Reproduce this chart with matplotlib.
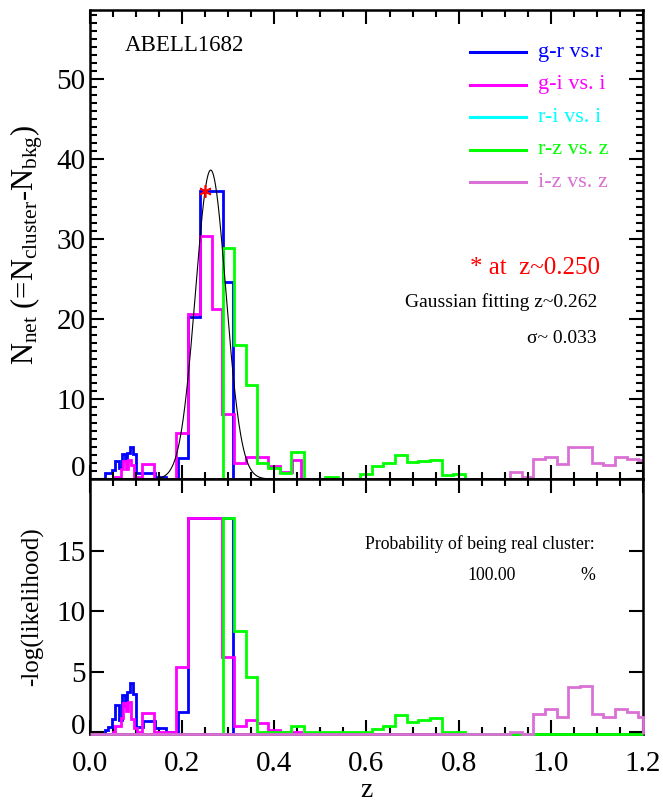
import numpy as np
import matplotlib
matplotlib.use("Agg")
import matplotlib.pyplot as plt
from matplotlib.ticker import MultipleLocator

plt.rcParams['font.family'] = 'Liberation Serif'
plt.rcParams['mathtext.fontset'] = 'custom'
plt.rcParams['mathtext.rm'] = 'Liberation Serif'
plt.rcParams['mathtext.it'] = 'Liberation Serif:italic'

# redshift bin edges and counts per colour; *_net is the net count,
# *_like is -log(likelihood) (values below the axis sit on the frame)
blue_edges = [0.033, 0.040, 0.047, 0.054, 0.062, 0.069, 0.076, 0.081, 0.087, 0.094,
              0.100, 0.114, 0.141, 0.165, 0.192, 0.213, 0.239, 0.263, 0.288, 0.311]
blue_net = [0.7, 0.7, 1.1, 2.2, 1.4, 3.1, 2.2, 3.2, 4.0, 3.1,
            0.7, 0.7, 0.3, 0.0, 2.6, 20.3, 36.0, 36.0, 24.6]
blue_like = [0.2, 0.43, 1.1, 2.3, 1.03, 3.1, 2.2, 3.36, 4.05, 3.2,
             0.43, 0.95, 0.35, 0.0, 1.7, 17.7, 17.7, 17.7, 17.7]

magenta_edges = [0.051, 0.054, 0.067, 0.072, 0.078, 0.083, 0.090, 0.096, 0.101, 0.112,
                 0.140, 0.187, 0.213, 0.239, 0.264, 0.286, 0.313, 0.339, 0.363, 0.386,
                 0.412, 0.438, 0.459]
magenta_net = [0.3, 0.3, 1.3, 2.3, 1.3, 2.4, 1.7, 0.3, 0.3, 1.9,
               0.0, 5.8, 20.6, 30.4, 21.2, 8.1, 2.0, 2.7, 2.7, 1.6, 0.9, 2.4]
magenta_like = [0.0, 0.54, 1.17, 2.46, 1.8, 2.54, 1.09, 0.35, 0.0, 1.58,
                0.0, 5.4, 17.7, 17.7, 17.7, 6.25, 0.54, 1.03, 0.81, 0.2, 0.0, 0.0]

green_edges = [0.288, 0.313, 0.339, 0.363, 0.387, 0.412, 0.436, 0.464, 0.510, 0.539,
               0.586, 0.611, 0.636, 0.662, 0.687, 0.712, 0.738, 0.763, 0.788, 0.814, 1.2]
green_net = [28.9, 16.8, 11.75, 2.0, 1.4, 0.8, 3.4, 0.0, 0.2, 0.0,
             0.6, 1.67, 1.96, 3.0, 2.08, 2.25, 2.37, 0.5, 0.6, 0.0]
green_like = [17.7, 8.4, 4.55, 0.0, 0.0, 0.0, 0.56, 0.0, 0.0, 0.0,
              0.0, 0.26, 0.54, 1.44, 0.89, 1.03, 1.22, 0.0, 0.02, -1.0]

orchid_edges = [0.0, 0.912, 0.937, 0.962, 0.987, 1.013, 1.038, 1.063, 1.089, 1.114,
                1.139, 1.165, 1.190, 1.2]
orchid_net = [0.0, 0.92, 0.3, 2.46, 2.7, 1.9, 3.96, 4.0, 2.0, 1.8, 2.7, 2.5, 2.4]
orchid_like = [-1.0, 0.07, -1.0, 1.53, 1.94, 1.3, 3.73, 3.86, 1.53, 1.3, 1.94, 1.72, 1.3]

series_names = ['g-r vs.r', 'g-i vs. i', 'r-i vs. i', 'r-z vs. z', 'i-z vs. z']
series_colors = ['#0000ff', '#ff00ff', '#00ffff', '#00ff00', '#da70d6']

# gaussian fit to the g-r peak
gauss_amp = 38.6
gauss_mu = 0.262
gauss_sigma = 0.033
star_z = 0.250
star_n = 36.0
prob_real = 100.00

hists = [(blue_edges, blue_net, blue_like, series_colors[0]),
         (magenta_edges, magenta_net, magenta_like, series_colors[1]),
         (green_edges, green_net, green_like, series_colors[3]),
         (orchid_edges, orchid_net, orchid_like, series_colors[4])]

fig = plt.figure(figsize=(6.63, 8.02), dpi=100)
ax1 = fig.add_axes([0.1357, 0.4027, 0.8341, 0.5848])
ax2 = fig.add_axes([0.1357, 0.0844, 0.8341, 0.3183])

ylo1, yhi1 = 0.0, 58.6
ylo2, yhi2 = -0.15, 20.9

for edges, net, like, c in hists:
    ax1.stairs(net, edges, baseline=0, color=c, lw=2.0)
    ax2.stairs(np.maximum(like, ylo2), edges, baseline=ylo2, color=c, lw=2.0,
               clip_on=False, zorder=3)

zz = np.linspace(0, 1.2, 1200)
ax1.plot(zz, gauss_amp * np.exp(-0.5 * ((zz - gauss_mu) / gauss_sigma) ** 2),
         color='black', lw=0.8)
ax1.plot([star_z], [star_n], marker=(6, 2, 0), color='red', ms=9, mew=1.2)

for ax in (ax1, ax2):
    ax.set_xlim(0, 1.2)
    ax.xaxis.set_major_locator(MultipleLocator(0.2))
    ax.xaxis.set_minor_locator(MultipleLocator(0.05))
    ax.tick_params(which='both', direction='in', top=True, right=True,
                   width=1.5, labelsize=21, pad=3)
    ax.tick_params(which='major', length=10)
    ax.tick_params(which='minor', length=5)
    for s in ax.spines.values():
        s.set_linewidth(1.8)

ax1.set_ylim(ylo1, yhi1)
ax1.yaxis.set_minor_locator(MultipleLocator(1))
ax1.set_yticks([0, 10, 20, 30, 40, 50])
ax1.set_yticklabels(['', '10', '20', '30', '40', '50'])
ax1.tick_params(axis='x', labelbottom=False)
ax1.annotate('0', xy=(0, 0), xycoords=('axes fraction', 'data'), xytext=(-3, 7),
             textcoords='offset points', ha='right', va='center', fontsize=21)

ax2.set_ylim(ylo2, yhi2)
ax2.set_yticks([0, 5, 10, 15])
ax2.set_yticklabels(['', '5', '10', '15'])
ax2.annotate('0', xy=(0, 0), xycoords=('axes fraction', 'data'), xytext=(-3, 4),
             textcoords='offset points', ha='right', va='center', fontsize=21)
ax2.set_xticks(np.arange(0, 1.21, 0.2))
ax2.set_xticklabels(['%.1f' % v for v in np.arange(0, 1.21, 0.2)])
ax2.tick_params(axis='x', pad=12)

ax1.set_ylabel(r'N$_{\rm net}$ (=N$_{\rm cluster}$-N$_{\rm bkg}$)', fontsize=22)
ax1.yaxis.set_label_coords(-0.082, 0.5)
ax2.set_ylabel('-log(likelihood)', fontsize=18)
ax2.yaxis.set_label_coords(-0.082, 0.5)
ax2.set_xlabel('z', fontsize=20, labelpad=1)

# legend: coloured line + coloured name
for i, (name, c) in enumerate(zip(series_names, series_colors)):
    y = (479 - 52 - 32.5 * i) / 469
    ax1.plot([0.687, 0.788], [y, y], color=c, lw=2.2, transform=ax1.transAxes)
    ax1.text(0.810, y, name, color=c, fontsize=16, va='center', ha='left',
             transform=ax1.transAxes)

ax1.text(0.063, 0.925, 'ABELL1682', fontsize=16.5, va='center', ha='left',
         transform=ax1.transAxes)
ax1.text(0.922, 0.45, '* at  z~%.3f' % star_z, color='red', fontsize=18,
         va='center', ha='right', transform=ax1.transAxes)
ax1.text(0.917, 0.377, 'Gaussian fitting z~%.3f' % gauss_mu, fontsize=14,
         va='center', ha='right', transform=ax1.transAxes)
ax1.text(0.917, 0.30, '\u03c3~ %.3f' % gauss_sigma, fontsize=14,
         va='center', ha='right', transform=ax1.transAxes)

ax2.text(0.913, 0.745, 'Probability of being real cluster:', fontsize=12.8,
         va='center', ha='right', transform=ax2.transAxes)
ax2.text(0.682, 0.624, '%.2f' % prob_real, fontsize=12.8, va='center', ha='left',
         transform=ax2.transAxes)
ax2.text(0.913, 0.624, '%', fontsize=12.8, va='center', ha='right',
         transform=ax2.transAxes)

fig.savefig('out.png', dpi=100)
